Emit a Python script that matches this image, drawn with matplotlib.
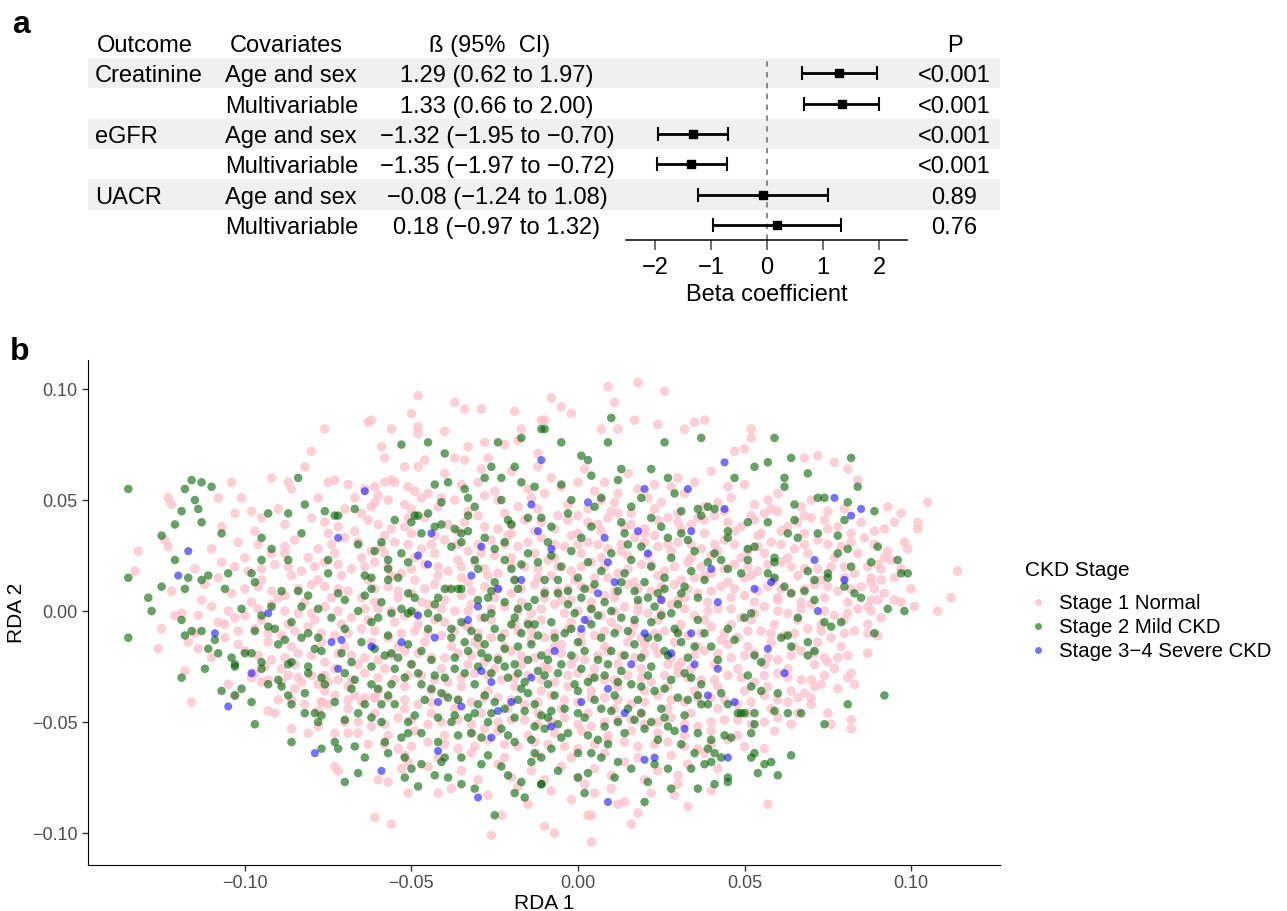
import matplotlib
matplotlib.use("Agg")
import matplotlib.pyplot as plt
import numpy as np
from matplotlib.transforms import blended_transform_factory
from matplotlib.patches import Rectangle
from matplotlib.lines import Line2D

plt.rcParams['font.family'] = ['Liberation Sans', 'DejaVu Sans']

# ---------------- panel a data ----------------
outcomes = ["Creatinine", "", "eGFR", "", "UACR", ""]
covariates = ["Age and sex", "Multivariable"] * 3
beta = [1.29, 1.33, -1.32, -1.35, -0.08, 0.18]
ci_low = [0.62, 0.66, -1.95, -1.97, -1.24, -0.97]
ci_high = [1.97, 2.00, -0.70, -0.72, 1.08, 1.32]
p_values = ["<0.001", "<0.001", "<0.001", "<0.001", "0.89", "0.76"]
beta_ticks = [-2, -1, 0, 1, 2]

# ---------------- panel b data (RDA scores, in units of 0.001) ----------------
stage_names = ["Stage 1 Normal", "Stage 2 Mild CKD", "Stage 3\u22124 Severe CKD"]
rda_ticks = [-0.10, -0.05, 0.00, 0.05, 0.10]

stage1_pts = [
    (-48,97),(-37,94),(-34,91),(-29,91),(-19,90),(-50,89),(-48,83),(-48,80),(-63,85),(-62,86),(-76,82),(-56,82),
    (-80,72),(-59,74),(-58,69),(-82,65),(-92,60),(-40,81),(-17,82),(-11,86),(9,101),(18,103),(26,99),(-8,96),
    (-5,92),(-2,89),(11,94),(-10,86),(7,82),(12,82),(17,86),(24,84),(32,82),(35,85),(38,86),(52,82),(52,78),
    (47,72),(50,73),(68,69),(72,70),(77,67),(81,64),(84,59),(93,47),(97,44),(105,49),(102,40),(102,37),(98,31),
    (99,28),(92,37),(95,40),(114,18),(112,6),(108,0),(91,19),(94,23),(88,15),(91,14),(95,5),(87,2),(90,5),
    (87,-19),(81,-30),(83,-33),(82,-28),(82,-49),(82,-53),(75,-23),(75,-46),(76,-51),(73,-33),(68,-37),(70,-42),
    (64,-51),(59,-54),(56,-62),(57,-87),(33,-88),(29,-83),(18,-91),(16,-96),(4,-92),(3,-92),(4,-104),(-7,-100),
    (-10,-97),(-2,-85),(14,-86),(12,-87),(5,-82),(-61,-93),(-56,-96),(-26,-101),(-51,-82),(-42,-82),(-73,-70),
    (-72,-72),(-116,-41),(-126,-17),(-125,-8),(-118,-27),(-23,-92),(-15,-87),(-60,-76),(-57,-77),(-53,-71),
    (-51,-68),(-86,-53),(-81,-55),(-78,-52),(-73,-55),(-69,-55),(-77,-41),(-75,-42),(-93,-45),(-91,-46),
    (-105,-33),(-103,-38),(-117,-14),(-114,-17),(-121,-2),(-114,-2),(-106,-6),(-103,-3),(-97,-28),(-95,-32),
    (-89,-26),(-87,-29),(-83,-32),(-78,-33),(-75,-32),(-67,-38),(-64,-39),(-61,-39),(-132,27),(-133,18),
    (-123,51),(-122,48),(-124,32),(-123,29),(-104,58),(-108,51),(-107,38),(-101,51),(-103,44),(-98,45),(-95,42),
    (-90,46),(-87,58),(-86,55),(-78,51),(-75,58),(-73,59),(-69,57),(-67,51),(-64,55),(-61,56),(-58,58),(-56,59),
    (-61,49),(-62,47),(-51,56),(-49,54),(-47,51),(-52,65),(-48,65),(-46,68),(-37,69),(-34,68),(-33,74),(-28,76),
    (-22,75),(-18,77),(-27,69),(-29,64),(-12,65),(-12,71),
    (-40,62),(-30,58),(-20,63),(-8,60),(2,64),(8,58),(15,62),(23,57),(30,60),(40,63),(45,56),(-15,55),
    (-60,52),(-52,48),(-45,53),(-37,50),(-28,52),(-18,47),(-10,53),(-3,48),(5,54),(11,49),(18,55),(25,49),
    (32,53),(38,47),(46,51),(53,48),(60,53),(67,47),(75,45),(-70,46),
    (-80,42),(-72,38),(-63,41),(-56,37),(-46,42),(-39,39),(-30,43),(-24,37),(-16,41),(-7,37),(0,43),(6,39),
    (12,44),(20,37),(27,42),(34,39),(41,43),(49,38),(56,44),(63,38),(70,42),(78,38),(85,40),(-88,39),(-97,36),
    (-110,28),(-102,31),(-92,26),(-85,32),(-78,28),(-70,33),(-62,27),(-55,31),(-47,28),(-40,32),(-33,27),
    (-26,32),(-18,29),(-11,33),(-4,29),(3,31),(9,28),(17,33),(24,29),(30,31),(37,28),(44,32),(51,27),(58,31),
    (65,28),(72,32),(79,29),(86,33),(93,27),
    (-115,19),(-107,22),(-99,18),(-91,21),(-83,18),(-76,22),(-68,19),(-61,22),(-53,17),(-46,21),(-39,18),
    (-31,22),(-24,17),(-16,20),(-9,23),(-2,18),(4,22),(12,17),(19,21),(26,18),(33,22),(40,17),(47,21),(54,18),
    (61,22),(68,19),(76,20),(83,17),(90,21),(97,19),
    (-122,9),(-112,12),(-104,8),(-96,11),(-88,7),(-80,12),(-72,10),(-65,6),(-57,11),(-50,8),(-43,12),(-35,7),
    (-28,11),(-20,8),(-13,12),(-6,9),(1,11),(8,7),(15,12),(22,9),(29,12),(36,8),(43,11),(50,7),(57,11),(64,8),
    (71,12),(78,9),(85,11),(92,8),(100,10),
    (-119,-1),(-110,2),(-100,-2),(-92,3),(-84,-1),(-76,2),(-68,-3),(-60,1),(-52,-2),(-45,3),(-37,0),(-29,-3),
    (-22,2),(-14,-1),(-7,3),(0,0),(7,-2),(14,2),(21,-1),(28,3),(35,-2),(42,1),(49,-3),(56,2),(63,-1),(70,3),
    (77,-2),(84,1),(91,-3),(101,2),
    (-115,-10),(-106,-12),(-97,-8),(-89,-11),(-81,-7),(-73,-11),(-65,-8),(-57,-12),(-49,-9),(-41,-11),(-33,-7),
    (-26,-12),(-18,-9),(-10,-12),(-3,-8),(5,-11),(12,-8),(19,-12),(26,-9),(33,-11),(40,-7),(48,-12),(55,-9),
    (62,-11),(69,-8),(76,-12),(83,-9),(90,-11),
    (-110,-21),(-100,-18),(-92,-22),(-84,-19),(-76,-23),(-68,-20),(-60,-22),(-52,-18),(-44,-21),(-36,-19),
    (-28,-23),(-20,-18),(-13,-21),(-5,-19),(2,-22),(9,-18),(17,-21),(24,-19),(31,-23),(38,-18),(46,-21),
    (53,-19),(60,-22),(67,-18),(74,-21),(81,-20),
    (-98,-30),(-89,-32),(-80,-29),(-72,-31),(-64,-28),(-55,-31),(-47,-29),(-39,-32),(-31,-28),(-23,-31),
    (-15,-29),(-7,-32),(0,-28),(8,-31),(15,-29),(22,-32),(30,-28),(37,-31),(45,-29),(53,-32),(60,-28),(67,-31),
    (74,-29),(78,-35),
    (-90,-40),(-82,-42),(-73,-38),(-65,-41),(-57,-39),(-48,-42),(-40,-38),(-32,-41),(-24,-39),(-16,-42),(-8,-38),
    (0,-41),(8,-39),(16,-42),(24,-38),(32,-41),(40,-39),(48,-42),(56,-38),(63,-41),(70,-39),
    (-70,-50),(-62,-52),(-54,-48),(-45,-51),(-36,-49),(-28,-53),(-20,-49),(-12,-51),(-4,-48),(4,-52),(12,-49),
    (20,-51),(28,-48),(36,-52),(44,-49),(52,-51),(60,-48),
    (-63,-60),(-54,-62),(-45,-59),(-36,-62),(-27,-58),(-18,-61),(-9,-60),(0,-62),(9,-58),(18,-61),(27,-59),
    (36,-62),(45,-58),(50,-61),
    (-45,-70),(-35,-72),(-24,-69),(-14,-72),(-5,-70),(5,-71),(14,-68),(24,-72),(33,-69),(42,-71),
    (-38,-80),(-27,-83),(-18,-79),(-8,-81),(2,-78),(10,-80),(22,-82),(30,-78),(40,-81),
    (-25,25),(-12,15),(-5,5),(5,15),(15,25),(25,5),(35,15),(-15,-5),(-5,-15),(10,-5),(20,-15),(30,5),(0,35),
    (-20,35),(20,35),(40,25),(-35,15),(-40,-5),(45,-15),(10,45),(-10,-25),(30,-25),(-30,-15),(50,15),(55,35),
    (-50,35),(60,5),(-55,-5),
    (-35,57),(-25,54),(-5,56),(12,53),(28,56),(35,58),(50,57),(58,46),(-55,58),(0,58),
    (-65,44),(-50,46),(-42,47),(-33,45),(-22,44),(-12,46),(-6,43),(3,46),(9,42),(16,44),(23,46),(30,44),(36,42),
    (44,45),(52,43),(60,45),(68,43),(80,46),
    (-75,35),(-67,36),(-58,34),(-52,38),(-43,34),(-36,36),(-28,38),(-21,34),(-13,36),(-2,34),(7,36),(14,38),
    (23,34),(31,37),(38,35),(47,36),(54,34),(61,36),(68,35),(75,37),(82,35),(89,36),
    (-100,24),(-88,26),(-81,24),(-73,26),(-65,24),(-58,26),(-49,24),(-43,26),(-36,23),(-29,26),(-20,24),(-13,26),
    (-7,24),(1,26),(7,24),(13,27),(21,25),(28,27),(34,24),(42,27),(49,24),(56,26),(63,24),(69,26),(77,24),(84,26),
    (92,24),
    (-108,15),(-95,14),(-86,16),(-78,14),(-71,16),(-63,14),(-56,16),(-49,14),(-42,16),(-33,13),(-27,16),(-19,14),
    (-8,16),(-1,14),(9,15),(17,13),(24,16),(31,14),(38,16),(45,13),(52,16),(59,14),(66,16),(73,14),(80,15),(88,13),
    (95,15),
    (-113,5),(-98,4),(-90,6),(-82,4),(-74,6),(-61,4),(-54,6),(-47,4),(-40,5),(-32,3),(-25,6),(-17,4),(-10,6),
    (-2,5),(4,4),(11,6),(18,3),(32,6),(39,4),(46,6),(53,4),(60,6),(67,4),(74,6),(81,4),(88,5),(97,4),
    (-108,-5),(-95,-4),(-87,-6),(-79,-4),(-71,-6),(-63,-4),(-48,-6),(-43,-4),(-34,-6),(-26,-4),(-19,-6),(-11,-4),
    (-2,-5),(3,-4),(17,-6),(24,-4),(31,-6),(38,-4),(46,-6),(52,-4),(59,-6),(66,-4),(73,-6),(80,-4),(87,-6),
    (-102,-15),(-93,-14),(-86,-16),(-77,-14),(-70,-16),(-62,-14),(-54,-16),(-46,-14),(-38,-16),(-31,-14),
    (-22,-16),(-14,-13),(-7,-16),(1,-14),(8,-16),(15,-14),(23,-16),(29,-14),(36,-16),(43,-13),(51,-16),(58,-14),
    (65,-16),(72,-14),(79,-16),
    (-94,-25),(-85,-24),(-73,-26),(-66,-24),(-58,-26),(-50,-24),(-41,-26),(-33,-24),(-25,-26),(-17,-24),(-9,-26),
    (-2,-24),(5,-26),(12,-24),(19,-26),(27,-24),(34,-26),(41,-24),(48,-26),(56,-24),(63,-26),(71,-24),(77,-26),
    (-85,-35),(-76,-36),(-69,-34),(-60,-36),(-52,-34),(-44,-36),(-35,-34),(-27,-36),(-19,-34),(-11,-36),(-3,-34),
    (4,-36),(12,-34),(20,-36),(27,-34),(35,-36),(42,-34),(50,-36),(57,-34),(64,-36),(71,-34),
    (-78,-45),(-69,-44),(-61,-46),(-52,-44),(-44,-46),(-37,-44),(-29,-46),(-21,-44),(-12,-46),(-5,-44),(3,-46),
    (11,-44),(19,-46),(27,-44),(34,-46),(42,-44),(51,-46),(58,-44),(66,-46),
    (-66,-55),(-57,-56),(-49,-54),(-40,-56),(-32,-55),(-24,-54),(-15,-56),(-7,-55),(1,-54),(9,-56),(16,-54),
    (24,-55),(32,-56),(40,-54),(48,-56),
    (-52,-65),(-42,-66),(-32,-64),(-22,-66),(-12,-65),(-2,-66),(8,-64),(18,-66),(28,-65),(38,-64),
    (-30,-76),(-20,-75),(-10,-76),(0,-75),(10,-74),(20,-76),(30,-74),
    (-57,50),(-41,51),(-24,50),(-14,51),(7,50),(21,51),(42,49),(57,50),(70,50),
    (-76,40),(-60,39),(-51,42),(-34,40),(-20,39),(-11,40),(-3,41),(3,40),(16,39),(24,41),(30,40),(38,41),(45,40),
    (53,41),(66,40),(74,41),
    (-96,30),(-88,29),(-74,30),(-66,31),(-59,29),(-51,30),(-44,30),(-36,30),(-30,30),(-22,30),(-15,31),(-7,30),
    (0,30),(6,30),(13,30),(20,31),(27,30),(34,30),(41,30),(47,30),(54,29),(61,30),(68,30),(75,30),(82,31),(89,30),
    (-103,20),(-95,19),(-87,20),(-79,20),(-72,21),(-64,20),(-57,20),(-50,19),(-42,20),(-35,20),(-28,19),(-20,21),
    (-12,19),(-6,20),(1,20),(8,20),(15,19),(22,21),(29,20),(37,20),(44,19),(51,20),(57,21),(64,20),(72,19),(80,20),
    (87,20),
    (-100,10),(-92,9),(-84,10),(-76,11),(-69,9),(-61,10),(-54,9),(-46,10),(-39,10),(-32,9),(-24,10),(-17,10),
    (-10,9),(-3,10),(4,10),(11,9),(18,10),(25,11),(33,10),(40,9),(47,10),(54,9),(61,10),(68,10),(75,11),(82,10),
    (89,10),
    (-105,0),(-96,1),(-88,0),(-80,-1),(-72,0),(-64,1),(-56,0),(-49,-1),(-41,1),(-33,0),(-26,1),(-18,0),(-11,1),
    (-4,-1),(4,1),(11,0),(18,0),(25,-1),(32,1),(39,0),(46,1),(53,-1),(60,0),(67,1),(74,0),(81,-1),(88,0),
    (-102,-9),(-93,-10),(-85,-9),(-77,-10),(-69,-10),(-61,-9),(-53,-10),(-45,-10),(-37,-9),(-30,-10),(-22,-10),
    (-14,-9),(-7,-10),(1,-10),(8,-9),(16,-10),(23,-10),(30,-9),(37,-10),(44,-10),(51,-9),(58,-10),(65,-10),
    (73,-9),(80,-10),(87,-10),
    (-96,-20),(-88,-21),(-80,-20),(-72,-19),(-64,-21),(-56,-20),(-48,-19),(-40,-21),(-32,-20),(-24,-21),
    (-17,-20),(-9,-19),(-1,-21),(6,-20),(13,-20),(20,-19),(28,-21),(35,-20),(42,-19),(50,-20),(57,-21),(64,-20),
    (71,-19),(78,-21),
    (-93,-31),(-84,-30),(-76,-29),(-68,-31),(-60,-30),(-51,-29),(-43,-31),(-35,-30),(-27,-29),(-19,-30),
    (-11,-31),(-3,-29),(4,-30),(11,-31),(19,-30),(26,-29),(33,-30),(41,-31),(49,-30),(56,-29),(63,-30),(70,-31),
    (-86,-40),(-77,-41),(-69,-40),(-61,-39),(-52,-40),(-44,-41),(-36,-40),(-28,-39),(-20,-40),(-12,-41),(-4,-40),
    (4,-39),(12,-40),(20,-41),(28,-40),(36,-39),(44,-40),(52,-41),(60,-40),(66,-39),
    (-66,-50),(-58,-51),(-50,-49),(-41,-50),(-32,-51),(-24,-50),(-16,-49),(-8,-50),(0,-51),(8,-50),(16,-49),
    (24,-50),(32,-51),(40,-50),(48,-49),(56,-50),
    (-58,-60),(-50,-61),(-40,-60),(-31,-61),(-22,-60),(-13,-59),(-4,-61),(5,-60),(14,-59),(23,-60),(32,-61),
    (40,-60),
]

stage2_pts = [
    (-135,55),(-135,15),(-116,59),(-113,58),(-110,56),(-118,55),(-115,50),(-114,46),(-119,45),(-113,40),
    (-121,39),(-125,34),(-107,35),(-84,60),(-82,48),(-93,44),(-87,44),(-76,45),(-73,43),(-72,43),(-67,46),
    (-53,75),(-45,76),(-24,76),(-17,78),(-11,82),(-40,71),(-43,57),(-39,58),(-34,55),(-41,49),(-28,60),(-23,60),
    (-26,65),(-17,58),(-19,65),(-49,43),(-45,44),(-55,41),(-83,35),(-95,33),(-92,28),(-87,23),(-95,23),(-121,23),
    (-117,15),(-125,11),(-118,10),(-129,6),(-128,0),(-113,14),(-111,16),(-106,10),(-105,17),(-98,17),(-97,13),
    (-101,1),(-89,9),(-84,9),(-81,7),(-75,23),(-75,17),(-66,30),(-61,27),(-57,23),(-59,31),(-53,26),(-51,22),
    (-64,16),(-62,15),(-57,14),(-54,15),(-57,19),(-50,40),(-48,43),(-47,35),(-43,38),(-41,39),(-37,37),(-35,35),
    (-33,36),(-38,29),(-35,31),(-38,10),(-36,10),(-40,10),(-42,6),(-43,3),(-31,23),(-30,19),(-22,23),(-20,19),
    (-25,13),(-19,14),(-27,6),(-18,1),(-15,2),(-21,41),(-20,39),(-23,50),(-15,42),(-11,42),(-13,56),(-33,51),
    (-31,47),(-33,43),(-64,7),(-62,10),(-51,8),(-49,6),(-53,1),(-50,0),(-72,8),(-70,5),(-59,4),(-78,1),(-83,2),
    (-92,2),
    (-10,82),(10,87),(9,76),(26,76),(37,78),(59,78),(82,69),(64,69),(57,67),(53,65),(69,62),(84,56),(89,45),
    (81,49),(80,41),(72,51),(74,51),(62,56),(62,60),(65,48),(47,60),(51,40),(57,40),(65,41),(63,35),(66,33),
    (72,35),(78,34),(90,29),(78,26),(81,28),(88,22),(96,23),(97,17),(99,17),(82,20),(75,17),(75,15),(80,11),
    (83,8),(85,6),(69,18),(71,14),(68,9),(71,5),(93,1),(98,0),(59,24),(59,22),(53,29),(51,28),(45,33),(45,36),
    (41,46),(39,47),(37,43),(36,46),(29,53),(31,45),(27,60),(22,64),(13,64),(-5,76),(-5,57),(1,70),(3,68),(4,61),
    (12,59),(19,51),(16,47),(22,42),(-2,50),(-3,44),(7,51),(5,47),(-8,38),(1,33),(4,38),(13,40),(14,35),(25,38),
    (27,33),(31,35),(33,32),(41,26),(43,23),(45,19),(49,17),(51,23),(57,17),(59,15),(62,11),(64,8),
    (-8,25),(-5,20),(-2,27),(0,15),(3,22),(5,12),(7,18),(10,26),(12,9),(14,17),(16,23),(18,5),(20,13),(22,20),
    (24,8),(26,15),(28,24),(30,3),(32,11),(34,18),(36,6),(38,14),(-6,8),(-3,3),(1,6),(-10,14),(-12,22),(-9,31),
    (15,30),(19,29),(23,2),(28,-1),(10,0),(4,1),(-1,-1),(35,27),(39,22),(-25,28),(-22,31),(-28,33),(-15,26),
    (-17,21),
    (-135,-12),(-119,-4),(-118,-11),(-116,-9),(-113,-9),(-119,-30),(-112,-26),(-111,-17),(-109,-13),(-108,-19),
    (-107,-36),(-103,-24),(-103,-38),(-101,-35),(-98,-41),(-97,-51),(-95,-23),(-95,-26),(-93,-33),(-90,-31),
    (-89,-34),(-87,-38),(-86,-42),(-86,-59),(-82,-37),(-82,-46),(-79,-46),(-78,-50),(-77,-47),(-73,-41),
    (-77,-62),(-73,-59),(-72,-62),(-70,-77),(-70,-49),(-67,-61),(-66,-73),(-64,-66),(-62,-48),(-59,-50),
    (-58,-59),(-57,-64),(-52,-66),(-52,-75),(-48,-79),(-50,-71),(-47,-69),(-43,-74),(-39,-75),(-41,-68),
    (-40,-66),(-35,-78),(-35,-66),(-31,-80),(-25,-92),(-29,-69),(-27,-65),(-23,-70),(-21,-74),(-17,-77),
    (-19,-82),(-16,-84),(-11,-78),(-13,-64),(-14,-68),(-47,-55),(-42,-59),(-53,-57),(-51,-55),(-36,-56),
    (-32,-55),(-29,-57),(-38,-50),(-37,-47),(-42,-48),(-49,-47),(-51,-50),(-55,-42),(-59,-42),(-64,-42),
    (-66,-46),(-60,-35),(-57,-38),(-56,-33),(-62,-33),(-67,-31),(-68,-35),(-70,-28),(-77,-30),(-76,-33),
    (-81,-28),(-81,-25),(-87,-24),(-86,-23),(-83,-12),(-81,-10),(-78,-12),(-91,-8),(-93,-7),(-88,-13),(-97,-9),
    (-100,-19),(-98,-19),(-104,-21),(-103,-25),(-77,-18),(-79,-17),(-71,-19),(-68,-23),(-65,-14),(-61,-17),
    (-62,-25),(-57,-11),(-56,-19),(-54,-21),(-51,-15),(-56,-1),(-60,-3),(-51,-1),(-45,-1),(-42,-3),(-48,-28),
    (-47,-33),(-43,-29),(-41,-37),(-39,-39),(-37,-26),(-34,-28),(-38,-12),(-37,-21),(-30,-12),(-28,-15),
    (-27,-21),(-22,-17),(-19,-24),(-17,-35),(-15,-37),(-13,-42),(-11,-47),(-10,-53),(-27,-50),(-31,-46),
    (-21,-56),(-19,-59),(-19,-3),(-15,-6),(-12,-11),
    (89,-10),(92,-38),(81,-42),(74,-51),(64,-65),(60,-74),(58,-68),(56,-69),(54,-73),(52,-66),(53,-64),(45,-77),
    (45,-75),(41,-78),(36,-80),(28,-80),(20,-86),(21,-77),(11,-75),(2,-82),(3,-73),(0,-75),(-6,-72),(-11,-78),
    (34,-71),(38,-69),(40,-68),(43,-66),(41,-64),(36,-55),(40,-58),(44,-56),(46,-57),(52,-55),(53,-51),(49,-46),
    (50,-46),(53,-46),(59,-45),(63,-46),(67,-46),(60,-37),(55,-36),(52,-34),(51,-29),(55,-23),(53,-20),(64,-16),
    (69,-20),(71,-18),(63,-11),(61,-12),(74,-5),(76,-7),(79,-5),(66,-3),(69,-14),(50,-3),(52,-1),(43,-37),
    (45,-42),(48,-46),(36,-38),(39,-42),(31,-60),(35,-64),(39,-62),(27,-71),(23,-69),(16,-71),(12,-68),(7,-66),
    (4,-64),(0,-64),(-5,-57),(-11,-66),(-8,-62),
    (-8,-5),(-4,-10),(0,-14),(4,-6),(7,-12),(10,-18),(13,-3),(15,-9),(17,-15),(19,-21),(22,-5),(24,-12),(26,-18),
    (29,-8),(31,-14),(33,-21),(36,-4),(38,-10),(40,-16),(42,-22),(45,-8),(47,-13),(-9,-22),(-6,-28),(-2,-20),
    (1,-26),(3,-32),(6,-22),(8,-29),(11,-38),(13,-27),(16,-33),(18,-40),(21,-29),(23,-36),(25,-44),(28,-31),
    (30,-39),(32,-47),(34,-30),(37,-33),(-7,-38),(-4,-44),(-1,-33),(2,-48),(5,-40),(8,-52),(10,-45),(14,-55),
    (17,-49),(20,-53),(24,-58),(27,-52),(-3,-55),(-8,-45),(6,-58),
    (-35,-5),(-32,-9),(-28,-3),(-25,-8),(-23,-12),(-20,-6),(-17,-10),(-14,-15),(-11,-20),(-33,-18),(-30,-25),
    (-26,-28),(-24,-22),(-21,-30),(-18,-28),(-15,-22),(-12,-27),(-9,-33),(-31,-33),(-28,-38),(-25,-41),
    (-22,-44),(-19,-48),(-16,-45),(-13,-52),(-45,-8),(-47,-18),(-44,-22),(-50,-24),
    (-38,-8),(-34,-14),(-29,-19),(-26,-1),(-22,-25),(-18,-16),(-16,-32),(-13,-6),(-10,-29),(-7,-12),(-5,-24),
    (-2,-8),(0,-36),(2,-18),(5,-30),(6,-2),(9,-24),(11,-10),(12,-32),(14,-20),(17,-4),(19,-34),(21,-12),(22,-25),
    (25,-2),(26,-35),(27,-20),(30,-10),(32,-28),(35,-16),(37,-42),(-36,-40),(-33,-48),(-30,-42),(-26,-46),
    (-23,-53),(-18,-40),(-14,-58),(-9,-48),(-6,-51),(0,-46),(3,-56),(7,-44),(9,-60),(12,-50),(15,-44),(19,-46),
    (22,-50),(26,-48),(29,-54),(33,-40),(-35,10),(-30,5),(-26,9),(-22,4),(-18,10),(-13,5),(-10,8),(-6,14),(-3,9),
    (2,10),(8,4),(13,13),(17,9),(21,6),(26,10),(31,8),(-40,-30),(-44,-35),(-46,-40),(-52,-30),(-55,-26),
    (-58,-20),(-62,-5),(-66,0),(-70,-8),(-74,-3),(-86,-5),(-90,-15),(-95,-2),
]

stage3_pts = [
    (-64,54),(-117,27),(-120,16),(-72,33),(-44,35),(-29,29),(-11,68),(-14,48),(-12,36),(-48,25),(-45,21),
    (-30,2),(-24,10),(-17,14),(-93,-1),(-32,16),(44,67),(20,55),(33,55),(3,49),(44,46),(77,51),(82,43),(85,46),
    (-8,28),(9,22),(6,8),(18,36),(34,36),(80,14),(72,0),(42,4),(40,19),(11,13),(21,26),(25,5),(58,13),(71,23),
    (53,10),(8,33),(-109,-10),(-98,-28),(-105,-43),(-72,-26),(-74,-14),(-71,-13),(-62,-16),(-53,-14),(-48,-2),
    (-79,-64),(-59,-72),(-42,-63),(-30,-84),(-35,-43),(-42,-41),(-29,-27),(-26,-32),(-24,-45),(-14,-30),
    (-43,-12),(-20,-41),(-26,-57),(-33,-4),(2,-4),(1,-8),(20,-10),(34,-10),(-7,-18),(28,-19),(35,-24),(42,-26),
    (57,-17),(62,-28),(9,-35),(1,-41),(14,-46),(39,-38),(47,-41),(32,-53),(-8,-52),(20,-67),(45,-66),(9,-86),
    (16,-24),(23,-66),
]

stage_colors = ["#FFC0CB", "#006400", "#0000FF"]
stage_alpha = [0.75, 0.6, 0.55]
stage_size = [48, 38, 34]

W, H = 1287, 911
fig = plt.figure(figsize=(W / 100, H / 100), dpi=100)

# ---------------- panel a: forest plot ----------------
ax_a = fig.add_axes([626 / W, 1 - 240 / H, (907 - 626) / W, (240 - 58) / H])
ax_a.set_facecolor("none")
rows = np.arange(len(beta))
ax_a.set_xlim(-2.52, 2.5)
ax_a.set_ylim(5.5, -0.5)

tr = blended_transform_factory(fig.transFigure, ax_a.transData)
for r in rows[::2]:
    ax_a.add_patch(Rectangle((88 / W, r - 0.5), (1000 - 88) / W, 1.0, transform=tr,
                             facecolor="#EEF1EF", edgecolor="none", clip_on=False, zorder=0))

ax_a.axvline(0, color="#7F7F7F", ls=(0, (3, 3)), lw=1.3, zorder=1)
b = np.array(beta)
ax_a.errorbar(b, rows, xerr=[b - np.array(ci_low), np.array(ci_high) - b], fmt="s", color="black",
              ms=6, elinewidth=2, capsize=5, capthick=1.5, zorder=3)

fs = 17
hdr = -1 + 0.3
ax_a.text(97 / W, hdr, "Outcome", transform=tr, fontsize=fs, va="baseline", ha="left")
ax_a.text(230 / W, hdr, "Covariates", transform=tr, fontsize=fs, va="baseline", ha="left")
ax_a.text(490 / W, hdr, "\u00df (95%  CI)", transform=tr, fontsize=fs, va="baseline", ha="center")
ax_a.text(955 / W, hdr, "P", transform=tr, fontsize=fs, va="baseline", ha="center")

for i in rows:
    y = i + 0.3
    txt = f"{beta[i]:.2f} ({ci_low[i]:.2f} to {ci_high[i]:.2f})".replace("-", "\u2212")
    ax_a.text(95 / W, y, outcomes[i], transform=tr, fontsize=fs, va="baseline", ha="left")
    ax_a.text(225 / W, y, covariates[i], transform=tr, fontsize=fs, va="baseline", ha="left")
    ax_a.text(497 / W, y, txt, transform=tr, fontsize=fs, va="baseline", ha="center")
    ax_a.text(954 / W, y, p_values[i], transform=tr, fontsize=fs, va="baseline", ha="center")

for s in ["top", "right", "left"]:
    ax_a.spines[s].set_visible(False)
ax_a.spines["bottom"].set_linewidth(1.1)
ax_a.set_yticks([])
ax_a.set_xticks(beta_ticks)
ax_a.set_xticklabels([str(t).replace("-", "\u2212") for t in beta_ticks])
ax_a.tick_params(axis="x", length=7, width=1.2, color="#555555", labelsize=fs, pad=5)
ax_a.set_xlabel("Beta coefficient", fontsize=fs, labelpad=4)

fig.text(12 / W, 1 - 33 / H, "a", fontsize=23, fontweight="bold", va="baseline")
fig.text(10 / W, 1 - 360 / H, "b", fontsize=23, fontweight="bold", va="baseline")

# ---------------- panel b: RDA scatter ----------------
ax_b = fig.add_axes([88 / W, 1 - 865 / H, 912 / W, 505 / H])
for pts, col, al, sz in zip([stage1_pts, stage2_pts, stage3_pts], stage_colors, stage_alpha, stage_size):
    arr = np.array(pts) / 1000.0
    ax_b.scatter(arr[:, 0], arr[:, 1], s=sz, color=col, alpha=al, edgecolors="none")

ax_b.set_xlim(-0.1471, 0.1267)
ax_b.set_ylim(-0.1144, 0.1131)
ax_b.set_xticks(rda_ticks)
ax_b.set_yticks(rda_ticks)
lbls = [f"{t:.2f}".replace("-", "\u2212") for t in rda_ticks]
ax_b.set_xticklabels(lbls)
ax_b.set_yticklabels(lbls)
ax_b.tick_params(length=4, width=1, color="#333333", labelcolor="#4D4D4D", labelsize=13)
for s in ["top", "right"]:
    ax_b.spines[s].set_visible(False)
ax_b.set_xlabel("RDA 1", fontsize=15, labelpad=1)
ax_b.set_ylabel("RDA 2", fontsize=15, labelpad=4)

handles = [Line2D([], [], marker="o", ls="none", color=c, alpha=a, ms=5, mec="none")
           for c, a in zip(stage_colors, stage_alpha)]
leg = ax_b.legend(handles, stage_names, title="CKD Stage", loc="upper left",
                  bbox_to_anchor=(1007 / W, 1 - 543 / H), bbox_transform=fig.transFigure,
                  frameon=False, fontsize=14.7, title_fontsize=15, handletextpad=0.45,
                  labelspacing=0.25, alignment="left", handlelength=1.2)
leg._legend_box.sep = 10

fig.savefig("out.png", dpi=100)
